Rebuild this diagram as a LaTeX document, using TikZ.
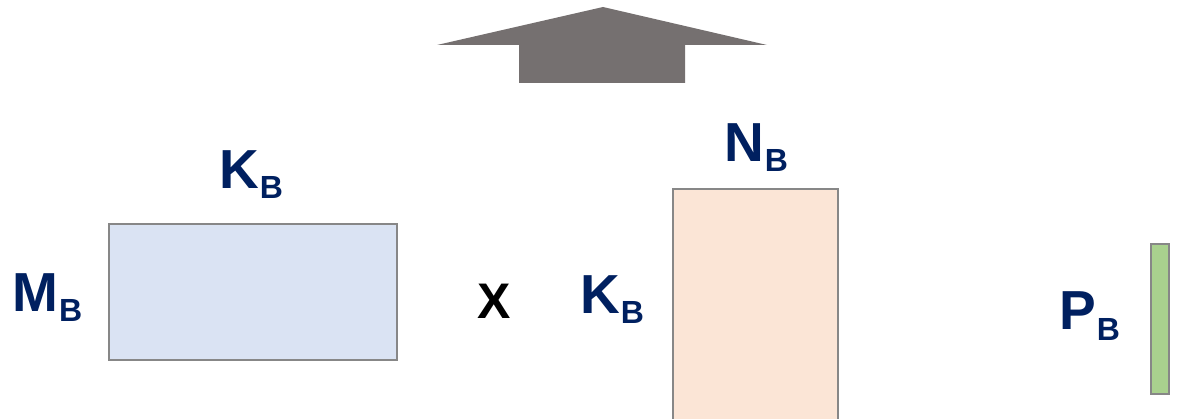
\documentclass[tikz,border=0pt]{standalone}
\usepackage{fontspec}
\setmainfont{Liberation Sans}
\definecolor{navy}{HTML}{002060}
\definecolor{arrowgray}{HTML}{757070}
\definecolor{edgegray}{HTML}{878787}
\definecolor{bluefill}{HTML}{DAE3F3}
\definecolor{orangefill}{HTML}{FBE5D6}
\definecolor{greenfill}{HTML}{A9D18E}
\newcommand{\dimlabel}[2]{{\fontsize{55}{55}\selectfont\bfseries #1}\kern1pt\raisebox{-10pt}{\fontsize{32}{32}\selectfont\bfseries #2}}
\begin{document}
\begin{tikzpicture}[x=1pt,y=-1pt,
  matrixbox/.style={draw=edgegray,line width=2.2pt},
  dimtext/.style={text=navy,inner sep=0pt,anchor=base west}]
\useasboundingbox (0,0) rectangle (1177,419);
% upward block arrow
\fill[arrowgray] (603,7) -- (767,45) -- (685,45) -- (685,83) -- (519,83) -- (519,45) -- (437,45) -- cycle;
% operand matrices
\node[matrixbox,fill=bluefill,minimum width=288pt,minimum height=136pt,anchor=north west,inner sep=0pt] (A) at (108,223) {};
\node[matrixbox,fill=orangefill,minimum width=165pt,minimum height=240pt,anchor=north west,inner sep=0pt] (Bm) at (672,188) {};
\node[matrixbox,fill=greenfill,minimum width=18pt,minimum height=150pt,anchor=north west,inner sep=0pt] (C) at (1150,243) {};
% dimension labels
\node[dimtext] (mb) at (12,312) {\dimlabel{M}{B}};
\node[dimtext] (kb1) at (219,189) {\dimlabel{K}{B}};
\node[dimtext] (kb2) at (580,313) {\dimlabel{K}{B}};
\node[dimtext] (nb) at (724,162) {\dimlabel{N}{B}};
\node[dimtext] (pb) at (1059,330) {\dimlabel{P}{B}};
\node[inner sep=0pt,anchor=base west] (times) at (477,319) {\fontsize{50}{50}\selectfont\bfseries X};
\end{tikzpicture}
\end{document}
